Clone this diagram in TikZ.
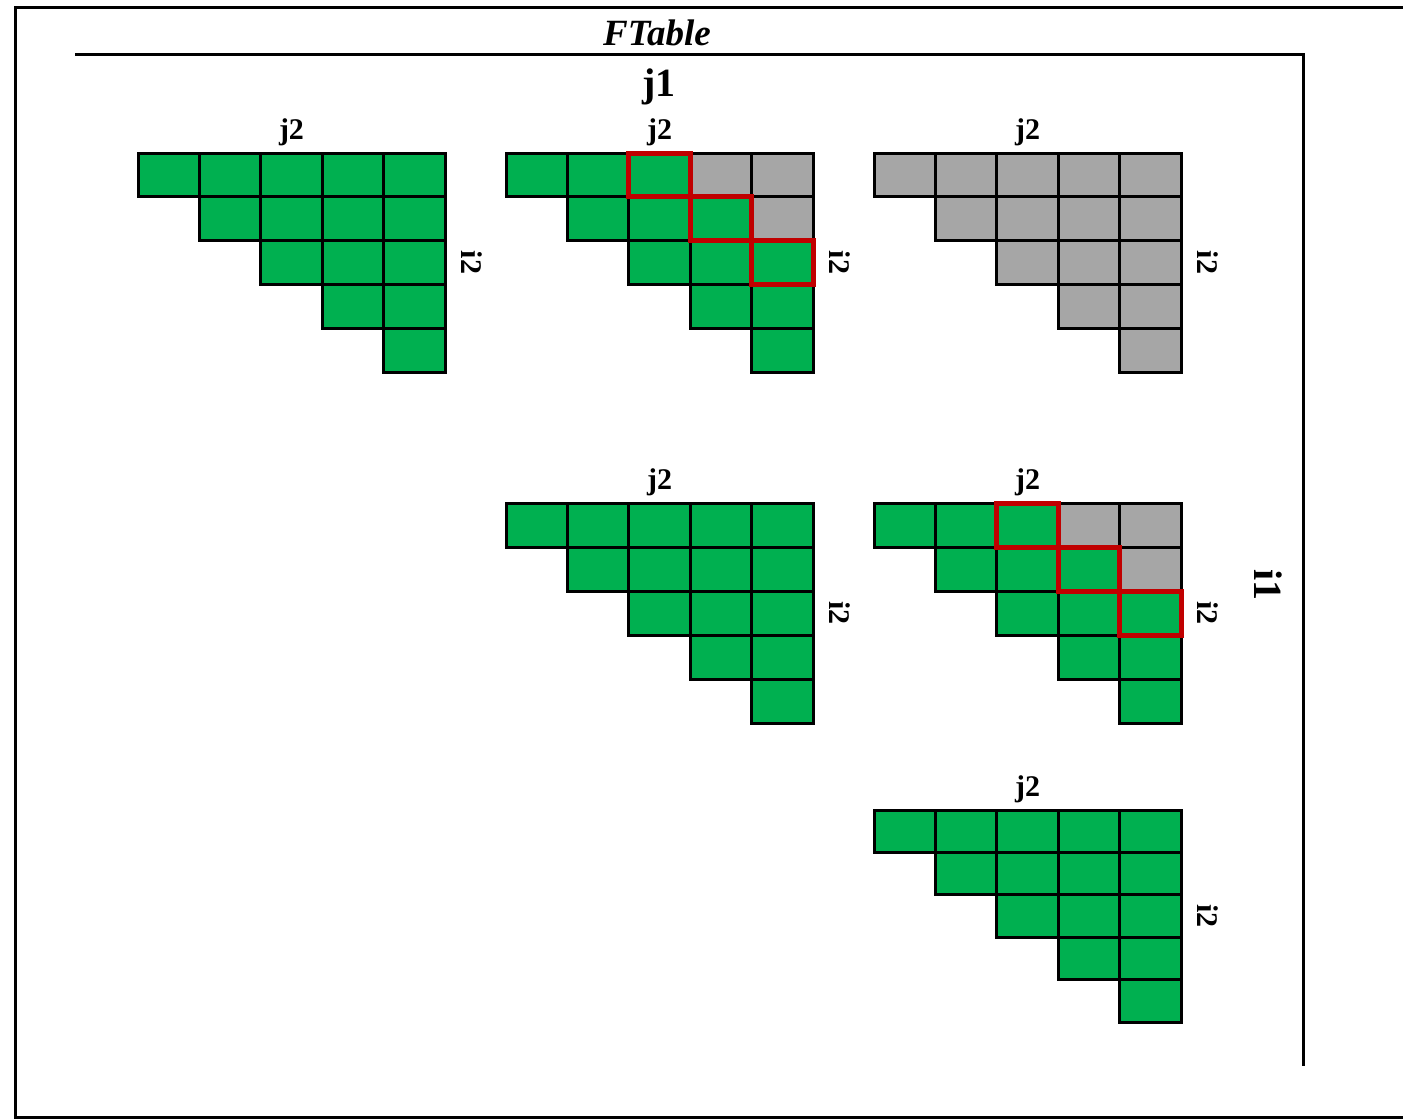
\documentclass[tikz,border=0pt]{standalone}
\usepackage{fontspec}
\setmainfont{Liberation Serif}
\usetikzlibrary{positioning}
\definecolor{cellgreen}{RGB}{0,176,80}
\definecolor{cellgray}{RGB}{166,166,166}
\definecolor{markred}{RGB}{192,0,0}
\tikzset{
  cell/.style={draw=black,line width=1.5pt},
  redcell/.style={draw=markred,line width=2.5pt},
  frame/.style={line width=1.5pt},
  axlbl/.style={font=\fontsize{15}{17}\selectfont\bfseries,inner sep=0pt},
  biglbl/.style={font=\fontsize{20}{22}\selectfont\bfseries,inner sep=0pt},
}

\begin{document}
\begin{tikzpicture}[x=0.5pt, y=-0.5pt]
\useasboundingbox (0,0) rectangle (1403,1119);

% outer and inner frame
\draw[frame] (1403,7) -- (15,7) -- (15,1117) -- (1403,1117);
\draw[frame] (75,54) -- (1303,54) -- (1303,1066);

\node[font=\fontsize{18.5}{21}\selectfont\bfseries\itshape,inner sep=0pt] (title) at (657,33) {FTable};
\node[biglbl] (j1) at (659,87) {j1};
\node[biglbl,rotate=-90] (i1) at (1268,585) {i1};

% triangles: origin x / origin y / row height / diagonal offset of the red cells
\foreach \ox/\oy/\h/\k [count=\t] in {138/153/43.8/9, 506/153/43.8/2, 874/153/43.8/-1,
                                       506/503/44/9, 874/503/44/2, 874/810/42.4/9}{
\begin{scope}[shift={(\ox,\oy)}]
  \foreach \r in {0,...,4}{
    \foreach \c in {\r,...,4}{
      \ifnum\numexpr\c-\r\relax>\k \def\cc{cellgray}\else\def\cc{cellgreen}\fi
      \draw[cell,fill=\cc] (\c*61.4,\r*\h) rectangle ++(61.4,\h);
    }
  }
  % red diagonal
  \ifnum\k=2
    \foreach \r in {0,1,2}
      \draw[redcell] ({(\r+2)*61.4},\r*\h) rectangle ++(61.4,\h);
  \fi
  \node[axlbl] (j2-\t) at (153.5,-21) {j2};
  \node[axlbl,rotate=-90] (i2-\t) at (334,2.5*\h) {i2};
\end{scope}
}

\end{tikzpicture}
\end{document}
